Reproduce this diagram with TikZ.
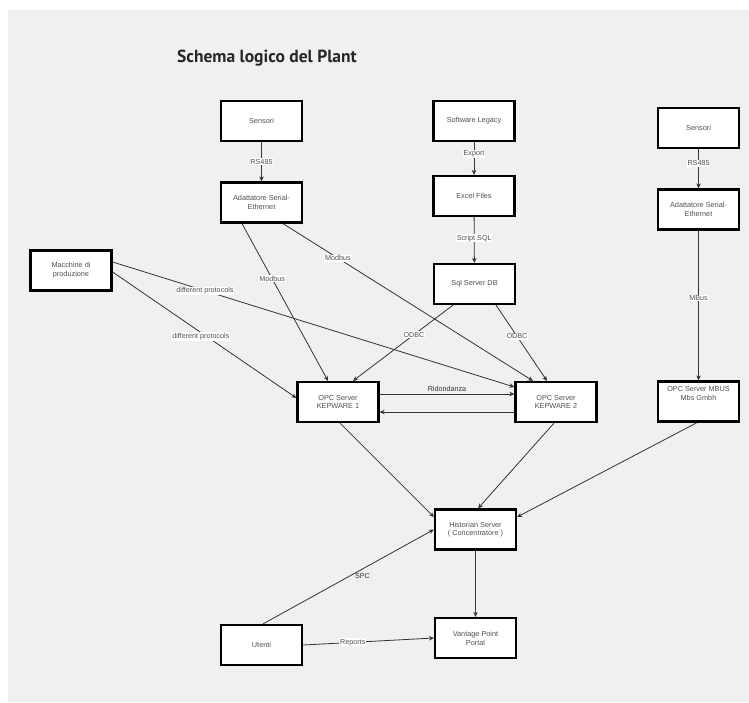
\documentclass[tikz,border=0pt]{standalone}
\usepackage{fontspec}
\setmainfont{Liberation Sans}
\newfontfamily\titlefont{PT Sans}
\usetikzlibrary{arrows.meta}
\definecolor{bggrey}{HTML}{F0F0F0}
\definecolor{txtgrey}{HTML}{505050}
\definecolor{linegrey}{HTML}{333333}
\tikzset{
  blk/.style={draw=black, fill=white, line width=2.2pt, minimum width=81pt, minimum height=40pt,
    align=center, text=txtgrey, font=\fontsize{7.3}{8.8}\selectfont, inner sep=1pt},
  conn/.style={draw=linegrey, line width=0.8pt, -{Stealth[length=5pt,width=4.5pt]}},
  lbl/.style={fill=white, text=txtgrey, font=\fontsize{7.2}{8}\selectfont, inner sep=0.8pt}
}
\begin{document}
\begin{tikzpicture}[x=1pt,y=-1pt]
\useasboundingbox (0,0) rectangle (749,702);
% background
\fill[bggrey] (8,10) rectangle (749,702);
\node[font=\titlefont\bfseries\fontsize{17.5}{21}\selectfont, text=black!85] (title) at (267,58) {Schema logico del Plant};
% Draw the boxes
\node[blk] (sensL) at (261.5,121) {Sensori};
\node[blk] (adaL) at (261.5,202.5) {Adattatore Serial-\\Ethernet};
\node[blk] (legacy) at (474,121) {Software Legacy};
\node[blk] (excel) at (474,196) {Excel Files};
\node[blk] (sqldb) at (474.5,284) {Sql Server DB};
\node[blk] (macch) at (71,270.5) {Macchine di\\produzione};
\node[blk] (kep1) at (338,402) {OPC Server\\KEPWARE 1};
\node[blk] (kep2) at (556,402) {OPC Server\\KEPWARE 2};
\node[blk] (sensR) at (698.5,128) {Sensori};
\node[blk] (adaR) at (698.5,209.5) {Adattatore Serial-\\Ethernet};
\node[blk] (mbus) at (698.5,401.5) {OPC Server MBUS\\Mbs Gmbh\\[8pt]};
\node[blk] (hist) at (475.5,529.5) {Historian Server\\( Concentratore )};
\node[blk] (vant) at (475.5,638) {Vantage Point\\Portal};
\node[blk] (utenti) at (261.5,645) {Utenti};
% Draw the connectors
\draw[conn] (sensL) -- node[lbl,pos=0.5] {RS485} (adaL);
\draw[conn] ([xshift=-19.5pt]adaL.south) -- node[lbl,pos=0.35] {Modbus} ([xshift=-10pt]kep1.north);
\draw[conn] ([xshift=21.5pt]adaL.south) -- node[lbl,pos=0.22] {Modbus} ([xshift=-23pt]kep2.north);
\draw[conn] (legacy) -- node[lbl,pos=0.35] {Export} (excel);
\draw[conn] (excel) -- node[lbl,pos=0.46] {Script SQL} (sqldb);
\draw[conn] ([xshift=-21.5pt]sqldb.south) -- node[lbl,pos=0.39] {ODBC} ([xshift=15pt]kep1.north);
\draw[conn] ([xshift=21.5pt]sqldb.south) -- node[lbl,pos=0.41] {ODBC} ([xshift=-9pt]kep2.north);
\draw[conn] ([yshift=8.5pt]macch.east) -- node[lbl,pos=0.23] {different protocols} ([yshift=15pt]kep2.west);
\draw[conn] ([yshift=-1.5pt]macch.east) -- node[lbl,pos=0.48,yshift=-4pt] {different protocols} ([yshift=4pt]kep1.west);
\draw[conn] ([yshift=8pt]kep1.east) -- node[lbl,above=1pt,fill=none,text=linegrey] {Ridondanza} ([yshift=8pt]kep2.west);
\draw[conn] ([yshift=-10pt]kep2.west) -- ([yshift=-10pt]kep1.east);
\draw[conn] (sensR) -- node[lbl,pos=0.36] {RS485} (adaR);
\draw[conn] (adaR) -- node[lbl,pos=0.45] {MBus} (mbus);
\draw[conn] ([xshift=2pt]kep1.south) -- ([yshift=12.5pt]hist.west);
\draw[conn] ([xshift=-2pt]kep2.south) -- ([xshift=2.5pt]hist.north);
\draw[conn] ([xshift=-1.5pt]mbus.south) -- ([yshift=12.5pt]hist.east);
\draw[conn] (hist) -- (vant);
\draw[conn] ([xshift=1.5pt]utenti.north) -- node[lbl,pos=0.57,fill=none,yshift=-6pt,xshift=2pt,text=linegrey] {SPC} (hist.west);
\draw[conn] (utenti.east) -- node[lbl,pos=0.38] {Reports} (vant.west);
\end{tikzpicture}
\end{document}
